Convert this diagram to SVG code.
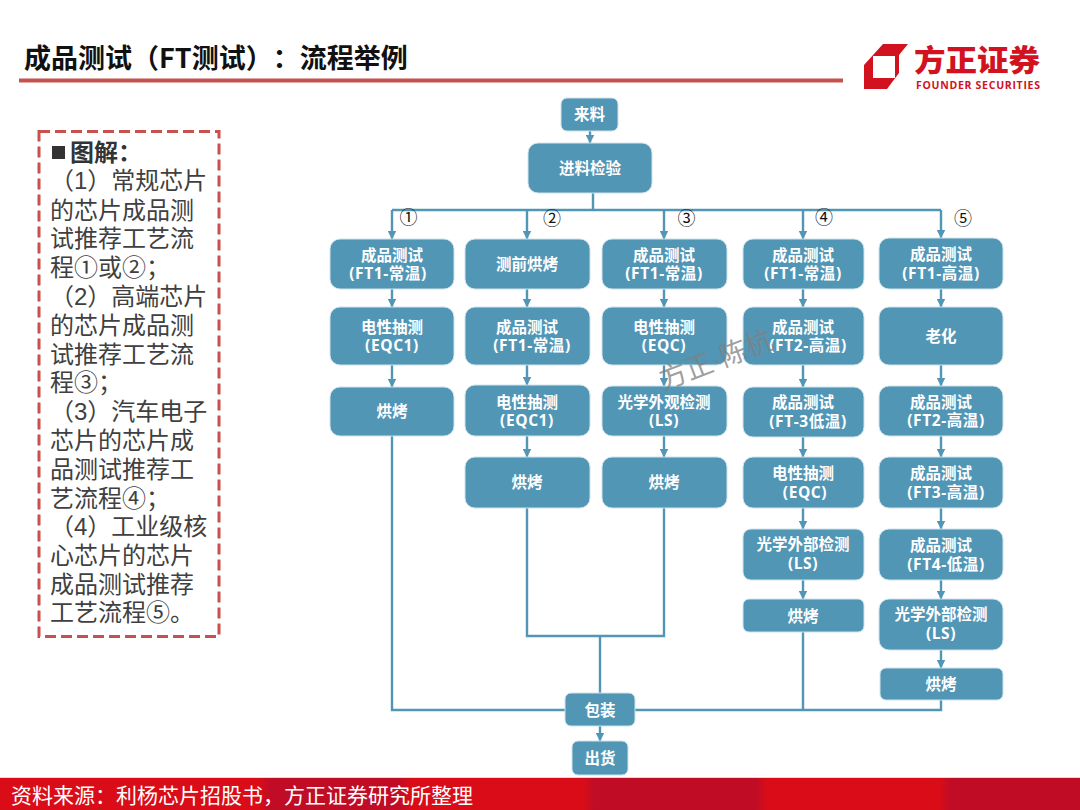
<svg xmlns="http://www.w3.org/2000/svg" width="1080" height="810" viewBox="0 0 1080 810">
<style>
text{font-family:"Noto Sans CJK SC","Noto Sans",sans-serif;text-spacing-trim:space-all}
.n rect{fill:#5296b6;stroke:#cfe3ec;stroke-width:1}
.n text{fill:#fff;font-size:15.5px;font-weight:700;text-anchor:middle;font-family:"Open Sans","Noto Sans CJK SC",sans-serif}
.n .w{letter-spacing:.6px}
.c{fill:none;stroke:#5296b6;stroke-width:2.4}
.a{marker-end:url(#ah)}
.num{font-size:18px;fill:#111;text-anchor:middle;font-family:"Noto Sans CJK SC",sans-serif}
.leg{font-size:24px;fill:#404040;font-family:"Liberation Sans","Noto Sans CJK SC",sans-serif}
</style>
<defs>
<marker id="ah" markerUnits="userSpaceOnUse" markerWidth="9" markerHeight="9" refX="8.500" refY="4.500" orient="auto"><path d="M0,0L9,4.500L0,9Z" fill="#5296b6"/></marker>
<linearGradient id="foot" x1="0" x2="1" y1="0" y2="0">
<stop offset="0" stop-color="#d90c18"/><stop offset=".24" stop-color="#d90c18"/><stop offset=".25" stop-color="#c00d25"/><stop offset=".37" stop-color="#c00d25"/><stop offset=".38" stop-color="#d90c18"/><stop offset=".54" stop-color="#d90c18"/><stop offset=".55" stop-color="#c00d25"/><stop offset=".70" stop-color="#c00d25"/><stop offset=".71" stop-color="#d90c18"/><stop offset=".87" stop-color="#d90c18"/><stop offset=".88" stop-color="#c00d25"/><stop offset="1" stop-color="#c00d25"/>
</linearGradient>
</defs>
<rect width="1080" height="810" fill="#fff"/>
<g id="header">
<text x="24" y="68" font-size="27" font-weight="700" fill="#111">成品测试（FT测试）：流程举例</text>
<rect x="19" y="78.500" width="824" height="4" fill="#c5524f"/>
</g>
<g id="logo">
<path d="M864,65L883,44H908L899,55V73L887,89H864ZM873,56V78H895V56Z" fill="#d2121f" fill-rule="evenodd"/>
<text x="914" y="71" font-size="30" font-weight="900" fill="#d2121f" textLength="126" lengthAdjust="spacingAndGlyphs">方正证券</text>
<text x="916" y="89" font-size="10.500" font-weight="700" fill="#d2121f" textLength="124" style="font-family:'Open Sans',sans-serif">FOUNDER SECURITIES</text>
</g>
<g id="legend">
<rect x="39" y="131.500" width="180" height="505" fill="#fff" stroke="#c9504f" stroke-width="3" stroke-dasharray="11 5"/>
<rect x="52" y="146" width="13" height="13" fill="#333"/>
<text class="leg" x="70" y="161" font-weight="700" style="fill:#333">图解：</text>
<text class="leg" x="50" y="189">  （1）常规芯片</text>
<text class="leg" x="50" y="219">的芯片成品测</text>
<text class="leg" x="50" y="247">试推荐工艺流</text>
<text class="leg" x="50" y="276">程①或②；</text>
<text class="leg" x="50" y="305">  （2）高端芯片</text>
<text class="leg" x="50" y="334">的芯片成品测</text>
<text class="leg" x="50" y="363">试推荐工艺流</text>
<text class="leg" x="50" y="391">程③；</text>
<text class="leg" x="50" y="420">  （3）汽车电子</text>
<text class="leg" x="50" y="449">芯片的芯片成</text>
<text class="leg" x="50" y="478">品测试推荐工</text>
<text class="leg" x="50" y="507">艺流程④；</text>
<text class="leg" x="50" y="535">  （4）工业级核</text>
<text class="leg" x="50" y="564">心芯片的芯片</text>
<text class="leg" x="50" y="593">成品测试推荐</text>
<text class="leg" x="50" y="621">工艺流程⑤。</text>
</g>
<g id="connectors">
<path class="c a" d="M590,131V143"/>
<path class="c" d="M593,193V210"/>
<path class="c" d="M392,210H941"/>
<path class="c a" d="M392,210V239"/><path class="c a" d="M527,210V239"/><path class="c a" d="M664,210V239"/><path class="c a" d="M803,210V239"/><path class="c a" d="M941,210V238"/>
<path class="c a" d="M392,289V307"/><path class="c a" d="M392,365V387"/>
<path class="c a" d="M527,289V307"/><path class="c a" d="M527,365V385"/><path class="c a" d="M527,436V457"/>
<path class="c a" d="M664,289V307"/><path class="c a" d="M664,365V386"/><path class="c a" d="M664,436V457"/>
<path class="c a" d="M803,289V307"/><path class="c a" d="M803,365V387"/><path class="c a" d="M803,437V457"/><path class="c a" d="M803,508V529"/><path class="c a" d="M803,580V599"/>
<path class="c a" d="M941,289V307"/><path class="c a" d="M941,365V386"/><path class="c a" d="M941,436V457"/><path class="c a" d="M941,508V529"/><path class="c a" d="M941,580V599"/><path class="c a" d="M941,650V668"/>
<path class="c" d="M392,436V710H565"/>
<path class="c" d="M527,508V636H664V508"/>
<path class="c" d="M600,636V693"/>
<path class="c" d="M803,632V710"/>
<path class="c" d="M941,700V710H635"/>
<path class="c a" d="M600,726V741"/>
</g>
<g id="n-laoliao" class="n"><rect x="561" y="98" width="57" height="33" rx="6"/><text x="589.500" y="120">来料</text></g>
<g id="n-jinliao" class="n"><rect x="528" y="143" width="124" height="50" rx="10"/><text x="590" y="174">进料检验</text></g>
<g id="n-1a" class="n"><rect x="330" y="239" width="124" height="50" rx="10"/><text y="261"><tspan x="392">成品测试</tspan><tspan class="w" x="388" y="279">(FT1-常温)</tspan></text></g>
<g id="n-1b" class="n"><rect x="330" y="307" width="124" height="58" rx="10"/><text y="333"><tspan x="392">电性抽测</tspan><tspan class="w" x="392" y="351">(EQC1)</tspan></text></g>
<g id="n-1c" class="n"><rect x="330" y="387" width="124" height="49" rx="10"/><text x="392" y="417">烘烤</text></g>
<g id="n-2a" class="n"><rect x="465" y="239" width="125" height="50" rx="10"/><text x="527" y="270">测前烘烤</text></g>
<g id="n-2b" class="n"><rect x="465" y="307" width="125" height="58" rx="10"/><text y="333"><tspan x="527">成品测试</tspan><tspan class="w" x="532" y="351">(FT1-常温)</tspan></text></g>
<g id="n-2c" class="n"><rect x="465" y="385" width="125" height="51" rx="10"/><text y="408"><tspan x="527">电性抽测</tspan><tspan class="w" x="527" y="426">(EQC1)</tspan></text></g>
<g id="n-2d" class="n"><rect x="465" y="457" width="125" height="51" rx="10"/><text x="527" y="488">烘烤</text></g>
<g id="n-3a" class="n"><rect x="602" y="239" width="125" height="50" rx="10"/><text y="261"><tspan x="664">成品测试</tspan><tspan class="w" x="664" y="279">(FT1-常温)</tspan></text></g>
<g id="n-3b" class="n"><rect x="602" y="307" width="125" height="58" rx="10"/><text y="333"><tspan x="664">电性抽测</tspan><tspan class="w" x="664" y="351">(EQC)</tspan></text></g>
<g id="n-3c" class="n"><rect x="602" y="386" width="125" height="50" rx="10"/><text y="408"><tspan x="664">光学外观检测</tspan><tspan class="w" x="664" y="426">(LS)</tspan></text></g>
<g id="n-3d" class="n"><rect x="602" y="457" width="125" height="51" rx="10"/><text x="664" y="488">烘烤</text></g>
<g id="n-4a" class="n"><rect x="743" y="239" width="121" height="50" rx="10"/><text y="261"><tspan x="803">成品测试</tspan><tspan class="w" x="803" y="279">(FT1-常温)</tspan></text></g>
<g id="n-4b" class="n"><rect x="743" y="307" width="121" height="58" rx="10"/><text y="333"><tspan x="803">成品测试</tspan><tspan class="w" x="808" y="351">(FT2-高温)</tspan></text></g>
<g id="n-4c" class="n"><rect x="743" y="387" width="121" height="50" rx="10"/><text y="408"><tspan x="803">成品测试</tspan><tspan class="w" x="808" y="427">(FT-3低温)</tspan></text></g>
<g id="n-4d" class="n"><rect x="743" y="457" width="121" height="51" rx="10"/><text y="479"><tspan x="803">电性抽测</tspan><tspan class="w" x="805" y="498">(EQC)</tspan></text></g>
<g id="n-4e" class="n"><rect x="743" y="529" width="121" height="51" rx="8"/><text y="550"><tspan x="803">光学外部检测</tspan><tspan class="w" x="803" y="569">(LS)</tspan></text></g>
<g id="n-4f" class="n"><rect x="743" y="599" width="121" height="33" rx="6"/><text x="803" y="622">烘烤</text></g>
<g id="n-5a" class="n"><rect x="879" y="238" width="124" height="51" rx="10"/><text y="260"><tspan x="941">成品测试</tspan><tspan class="w" x="941" y="279">(FT1-高温)</tspan></text></g>
<g id="n-5b" class="n"><rect x="879" y="307" width="124" height="58" rx="10"/><text x="941" y="342">老化</text></g>
<g id="n-5c" class="n"><rect x="879" y="386" width="124" height="50" rx="10"/><text y="408"><tspan x="941">成品测试</tspan><tspan class="w" x="946" y="426">(FT2-高温)</tspan></text></g>
<g id="n-5d" class="n"><rect x="879" y="457" width="124" height="51" rx="10"/><text y="479"><tspan x="941">成品测试</tspan><tspan class="w" x="946" y="498">(FT3-高温)</tspan></text></g>
<g id="n-5e" class="n"><rect x="879" y="529" width="124" height="51" rx="10"/><text y="551"><tspan x="941">成品测试</tspan><tspan class="w" x="946" y="570">(FT4-低温)</tspan></text></g>
<g id="n-5f" class="n"><rect x="879" y="599" width="124" height="51" rx="10"/><text y="620"><tspan x="941">光学外部检测</tspan><tspan class="w" x="941" y="639">(LS)</tspan></text></g>
<g id="n-5g" class="n"><rect x="880" y="668" width="123" height="32" rx="6"/><text x="941" y="690">烘烤</text></g>
<g id="n-baozhuang" class="n"><rect x="565" y="693" width="70" height="33" rx="6"/><text x="600" y="716">包装</text></g>
<g id="n-chuhuo" class="n"><rect x="572" y="741" width="56" height="34" rx="6"/><text x="600" y="764">出货</text></g>
<g id="labels">
<text class="num" x="408.500" y="224">①</text><text class="num" x="552" y="225">②</text><text class="num" x="686.500" y="225">③</text><text class="num" x="824" y="224">④</text><text class="num" x="963" y="225">⑤</text>
</g>
<text id="watermark" transform="translate(664,390) rotate(-21)" font-size="27.500" fill="#808080" fill-opacity=".75" style="font-family:'Liberation Sans','Noto Sans CJK SC',sans-serif">方正·陈杭</text>
<g id="footer">
<rect y="777" width="1080" height="1" fill="#eed4d4"/>
<rect y="778" width="1080" height="32" fill="url(#foot)"/>
<text x="11" y="803" font-size="21" fill="#fff" style="font-family:'Liberation Sans','Noto Sans CJK SC',sans-serif">资料来源：利杨芯片招股书，方正证券研究所整理</text>
</g>
</svg>
